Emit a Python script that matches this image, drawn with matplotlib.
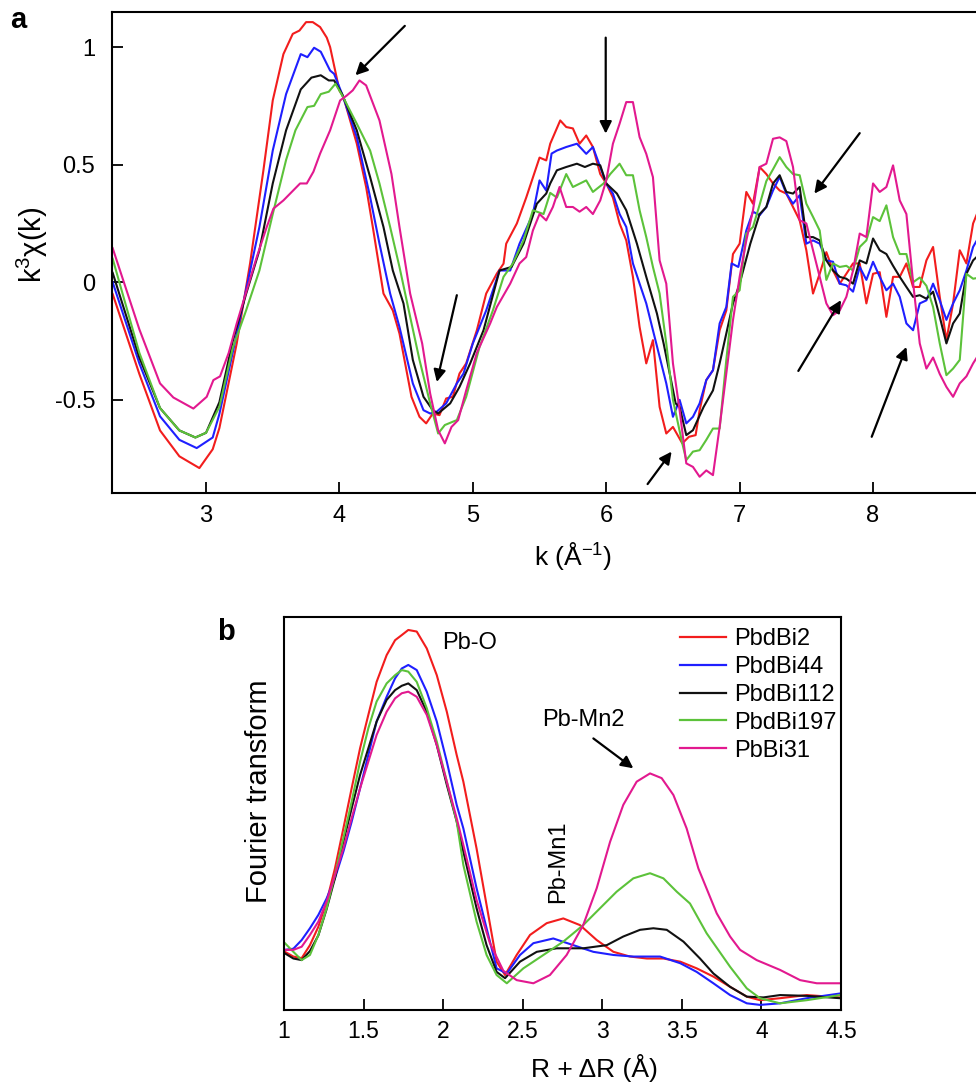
import matplotlib
matplotlib.use("Agg")
import matplotlib.pyplot as plt

plt.rcParams['font.family'] = ['Liberation Sans', 'DejaVu Sans']
plt.rcParams['mathtext.fontset'] = 'custom'
plt.rcParams['mathtext.rm'] = 'Liberation Sans'
plt.rcParams['mathtext.it'] = 'Liberation Sans'

# ---------------- panel a: k^3 chi(k) ----------------
k_red = [2.30, 2.50, 2.655, 2.80, 2.95, 3.05, 3.10, 3.23, 3.33, 3.43, 3.50, 3.58, 3.65, 3.70, 3.75, 3.80,
         3.855, 3.905, 3.93, 4.00, 4.03, 4.13, 4.20, 4.25, 4.33, 4.40, 4.45, 4.54, 4.60, 4.65, 4.70, 4.75,
         4.80, 4.85, 4.90, 4.95, 5.03, 5.10, 5.18, 5.23, 5.25, 5.33, 5.40, 5.50, 5.55, 5.58, 5.655, 5.70,
         5.75, 5.80, 5.85, 5.90, 5.955, 6.00, 6.05, 6.10, 6.15, 6.20, 6.25, 6.30, 6.35, 6.40, 6.45, 6.50,
         6.57, 6.62, 6.67, 6.70, 6.75, 6.80, 6.85, 6.90, 6.95, 7.00, 7.05, 7.10, 7.15, 7.20, 7.25, 7.30,
         7.35, 7.40, 7.45, 7.50, 7.55, 7.60, 7.65, 7.70, 7.75, 7.80, 7.85, 7.90, 7.95, 8.00, 8.05, 8.10,
         8.15, 8.20, 8.25, 8.30, 8.35, 8.40, 8.45, 8.50, 8.55, 8.60, 8.65, 8.70, 8.75, 8.80]
chi_red = [-0.05, -0.39, -0.63, -0.74, -0.79, -0.71, -0.62, -0.26, 0.08, 0.476, 0.773, 0.97, 1.056, 1.07, 1.106, 1.106,
           1.085, 1.04, 1.00, 0.815, 0.787, 0.589, 0.405, 0.235, -0.048, -0.12, -0.218, -0.487, -0.572, -0.60, -0.558, -0.565,
           -0.494, -0.487, -0.388, -0.345, -0.204, -0.048, 0.037, 0.079, 0.164, 0.25, 0.36, 0.53, 0.518, 0.589, 0.688, 0.66,
           0.654, 0.589, 0.624, 0.575, 0.46, 0.42, 0.36, 0.25, 0.178, 0.023, -0.19, -0.345, -0.246, -0.53, -0.643, -0.615,
           -0.685, -0.657, -0.65, -0.544, -0.416, -0.374, -0.204, -0.12, 0.12, 0.164, 0.384, 0.334, 0.49, 0.46, 0.42, 0.39,
           0.377, 0.32, 0.263, 0.136, -0.048, 0.036, 0.128, 0.05, -0.006, 0.036, 0.08, 0.08, -0.09, 0.036, 0.043, -0.147,
           0.023, 0.023, 0.08, -0.02, -0.02, 0.093, 0.15, -0.062, -0.246, -0.09, 0.136, 0.08, 0.25, 0.32]

k_blue = [2.30, 2.50, 2.655, 2.80, 2.93, 3.05, 3.10, 3.23, 3.40, 3.50, 3.60, 3.71, 3.76, 3.81, 3.86, 3.93,
          3.96, 4.02, 4.13, 4.23, 4.30, 4.38, 4.45, 4.55, 4.63, 4.68, 4.73, 4.80, 4.88, 4.93, 5.00, 5.10,
          5.20, 5.28, 5.35, 5.45, 5.50, 5.55, 5.59, 5.63, 5.70, 5.78, 5.85, 5.90, 5.955, 6.00, 6.05, 6.10,
          6.15, 6.20, 6.25, 6.30, 6.35, 6.40, 6.45, 6.50, 6.55, 6.60, 6.65, 6.70, 6.75, 6.80, 6.85, 6.90,
          6.94, 6.99, 7.05, 7.10, 7.15, 7.20, 7.25, 7.30, 7.35, 7.40, 7.45, 7.50, 7.55, 7.60, 7.65, 7.70,
          7.75, 7.80, 7.85, 7.90, 7.95, 8.00, 8.05, 8.10, 8.15, 8.20, 8.25, 8.30, 8.35, 8.40, 8.45, 8.50,
          8.55, 8.60, 8.65, 8.70, 8.75, 8.80]
chi_blue = [0.0, -0.345, -0.57, -0.67, -0.705, -0.66, -0.56, -0.22, 0.235, 0.56, 0.80, 0.97, 0.957, 0.997, 0.98, 0.90,
            0.886, 0.80, 0.617, 0.362, 0.164, -0.048, -0.19, -0.43, -0.544, -0.558, -0.55, -0.515, -0.43, -0.388, -0.26, -0.12,
            0.05, 0.05, 0.164, 0.29, 0.433, 0.39, 0.547, 0.56, 0.575, 0.589, 0.546, 0.575, 0.49, 0.42, 0.377, 0.29,
            0.235, 0.08, -0.006, -0.09, -0.204, -0.317, -0.43, -0.572, -0.50, -0.60, -0.572, -0.515, -0.416, -0.374, -0.175, -0.105,
            0.08, 0.065, 0.22, 0.30, 0.285, 0.32, 0.39, 0.448, 0.377, 0.334, 0.37, 0.164, 0.178, 0.164, 0.093, 0.087,
            -0.006, -0.013, -0.04, 0.065, 0.01, 0.087, 0.023, -0.034, -0.006, -0.062, -0.175, -0.204, -0.09, -0.077, -0.006, -0.077,
            -0.16, -0.09, -0.034, 0.05, 0.15, 0.20]

k_black = [2.30, 2.50, 2.655, 2.80, 2.92, 3.00, 3.10, 3.20, 3.30, 3.40, 3.50, 3.60, 3.71, 3.79, 3.86, 3.92,
           3.96, 4.02, 4.13, 4.23, 4.33, 4.40, 4.48, 4.55, 4.63, 4.70, 4.74, 4.83, 4.90, 4.98, 5.08, 5.20,
           5.29, 5.38, 5.48, 5.55, 5.58, 5.63, 5.70, 5.78, 5.84, 5.90, 5.955, 6.00, 6.08, 6.15, 6.23, 6.30,
           6.38, 6.43, 6.48, 6.52, 6.55, 6.60, 6.65, 6.73, 6.80, 6.85, 6.90, 6.95, 7.00, 7.08, 7.15, 7.20,
           7.25, 7.30, 7.35, 7.40, 7.45, 7.50, 7.55, 7.60, 7.65, 7.70, 7.75, 7.80, 7.85, 7.90, 7.95, 8.00,
           8.05, 8.10, 8.15, 8.20, 8.25, 8.30, 8.35, 8.40, 8.45, 8.50, 8.55, 8.60, 8.65, 8.70, 8.75, 8.80]
chi_black = [0.04, -0.32, -0.535, -0.63, -0.66, -0.64, -0.51, -0.25, -0.05, 0.136, 0.42, 0.646, 0.82, 0.87, 0.88, 0.858,
             0.858, 0.80, 0.646, 0.447, 0.235, 0.05, -0.09, -0.33, -0.487, -0.544, -0.558, -0.515, -0.445, -0.345, -0.204, 0.05,
             0.065, 0.164, 0.334, 0.377, 0.42, 0.476, 0.49, 0.504, 0.49, 0.504, 0.497, 0.42, 0.377, 0.306, 0.164, 0.023,
             -0.133, -0.26, -0.40, -0.515, -0.53, -0.65, -0.629, -0.53, -0.46, -0.345, -0.218, -0.09, -0.006, 0.164, 0.29, 0.32,
             0.42, 0.455, 0.384, 0.377, 0.405, 0.192, 0.192, 0.178, 0.093, 0.05, 0.023, 0.015, -0.006, 0.093, 0.08, 0.186,
             0.136, 0.12, 0.07, 0.023, -0.02, -0.062, -0.055, -0.07, -0.04, -0.147, -0.26, -0.175, -0.133, 0.036, 0.093, 0.12]

k_green = [2.30, 2.50, 2.655, 2.80, 2.92, 3.00, 3.10, 3.20, 3.30, 3.40, 3.50, 3.60, 3.67, 3.76, 3.81, 3.86,
           3.92, 3.97, 4.02, 4.13, 4.23, 4.30, 4.38, 4.45, 4.53, 4.60, 4.68, 4.74, 4.79, 4.88, 4.95, 5.05,
           5.15, 5.23, 5.30, 5.38, 5.45, 5.53, 5.58, 5.63, 5.70, 5.75, 5.85, 5.90, 5.98, 6.03, 6.10, 6.15,
           6.20, 6.25, 6.30, 6.35, 6.40, 6.45, 6.50, 6.57, 6.60, 6.65, 6.70, 6.75, 6.80, 6.85, 6.90, 6.95,
           7.00, 7.05, 7.10, 7.15, 7.20, 7.25, 7.30, 7.35, 7.40, 7.45, 7.50, 7.55, 7.60, 7.65, 7.70, 7.75,
           7.80, 7.85, 7.90, 7.95, 8.00, 8.05, 8.10, 8.15, 8.20, 8.25, 8.30, 8.35, 8.40, 8.45, 8.50, 8.55,
           8.60, 8.65, 8.70, 8.75, 8.80]
chi_green = [0.10, -0.30, -0.535, -0.63, -0.66, -0.64, -0.53, -0.28, -0.12, 0.05, 0.29, 0.52, 0.646, 0.745, 0.75, 0.80,
             0.81, 0.844, 0.795, 0.674, 0.56, 0.42, 0.235, 0.065, -0.147, -0.33, -0.515, -0.643, -0.607, -0.586, -0.487, -0.275,
             -0.12, 0.023, 0.08, 0.178, 0.306, 0.29, 0.38, 0.36, 0.46, 0.405, 0.433, 0.384, 0.42, 0.46, 0.504, 0.455,
             0.455, 0.306, 0.192, 0.065, -0.048, -0.26, -0.50, -0.685, -0.756, -0.72, -0.714, -0.67, -0.622, -0.622, -0.33, -0.062,
             -0.034, 0.207, 0.235, 0.33, 0.43, 0.48, 0.532, 0.49, 0.46, 0.455, 0.334, 0.278, 0.22, 0.01, 0.08, 0.065,
             0.07, 0.05, 0.15, 0.178, 0.277, 0.26, 0.327, 0.192, 0.12, 0.12, 0.0, 0.02, -0.015, -0.105, -0.26, -0.395,
             -0.367, -0.33, 0.036, 0.015, 0.02]

k_pink = [2.30, 2.50, 2.655, 2.755, 2.905, 3.005, 3.055, 3.105, 3.17, 3.23, 3.305, 3.38, 3.455, 3.505, 3.58, 3.705,
          3.755, 3.805, 3.855, 3.93, 4.005, 4.055, 4.10, 4.15, 4.20, 4.30, 4.39, 4.45, 4.53, 4.62, 4.68, 4.74,
          4.79, 4.84, 4.89, 4.95, 5.03, 5.13, 5.18, 5.28, 5.35, 5.40, 5.45, 5.50, 5.55, 5.60, 5.65, 5.70,
          5.75, 5.80, 5.85, 5.90, 5.955, 6.00, 6.05, 6.10, 6.15, 6.20, 6.25, 6.30, 6.35, 6.40, 6.45, 6.50,
          6.55, 6.60, 6.65, 6.70, 6.75, 6.80, 6.85, 6.90, 6.95, 7.00, 7.05, 7.10, 7.15, 7.20, 7.25, 7.30,
          7.35, 7.40, 7.45, 7.50, 7.55, 7.60, 7.65, 7.70, 7.75, 7.80, 7.85, 7.90, 7.95, 8.00, 8.05, 8.10,
          8.15, 8.20, 8.25, 8.30, 8.35, 8.40, 8.45, 8.50, 8.55, 8.60, 8.65, 8.70, 8.75, 8.80]
chi_pink = [0.145, -0.20, -0.43, -0.49, -0.537, -0.487, -0.416, -0.40, -0.30, -0.175, -0.034, 0.107, 0.235, 0.313, 0.348, 0.42,
            0.42, 0.47, 0.547, 0.646, 0.773, 0.794, 0.816, 0.858, 0.837, 0.688, 0.46, 0.235, -0.048, -0.26, -0.473, -0.629,
            -0.685, -0.615, -0.586, -0.46, -0.30, -0.175, -0.105, -0.006, 0.08, 0.107, 0.22, 0.29, 0.263, 0.32, 0.405, 0.32,
            0.32, 0.30, 0.32, 0.29, 0.348, 0.433, 0.589, 0.674, 0.766, 0.766, 0.617, 0.546, 0.447, 0.093, -0.006, -0.345,
            -0.544, -0.77, -0.785, -0.827, -0.80, -0.82, -0.615, -0.388, -0.161, 0.023, 0.178, 0.306, 0.49, 0.504, 0.61, 0.616,
            0.60, 0.49, 0.263, 0.25, 0.136, 0.023, -0.09, -0.14, -0.12, -0.062, 0.05, 0.207, 0.192, 0.42, 0.384, 0.405,
            0.497, 0.348, 0.29, 0.0, -0.26, -0.367, -0.32, -0.39, -0.445, -0.487, -0.43, -0.40, -0.345, -0.30]

k_ticks = [3, 4, 5, 6, 7, 8]
chi_ticks = [-0.5, 0, 0.5, 1]
chi_tick_labels = ['-0.5', '0', '0.5', '1']

# ---------------- panel b: Fourier transform ----------------
R_red = [1.006, 1.059, 1.111, 1.163, 1.216, 1.268, 1.32, 1.373, 1.425, 1.478, 1.53, 1.582, 1.645, 1.698, 1.74, 1.781,
         1.834, 1.897, 1.96, 2.023, 2.085, 2.127, 2.21, 2.273, 2.336, 2.389, 2.462, 2.546, 2.651, 2.755, 2.86, 2.965,
         3.07, 3.174, 3.28, 3.384, 3.49, 3.593, 3.698, 3.803, 3.908, 3.991, 4.117, 4.285, 4.494]
ft_red = [0.148, 0.136, 0.132, 0.165, 0.212, 0.276, 0.36, 0.462, 0.564, 0.666, 0.751, 0.835, 0.903, 0.941, 0.954, 0.967,
          0.963, 0.92, 0.852, 0.759, 0.649, 0.581, 0.411, 0.267, 0.123, 0.089, 0.14, 0.191, 0.221, 0.233, 0.216, 0.178,
          0.148, 0.136, 0.131, 0.131, 0.123, 0.106, 0.085, 0.059, 0.034, 0.025, 0.03, 0.038, 0.032]

R_blue = [1.006, 1.059, 1.111, 1.163, 1.216, 1.268, 1.32, 1.373, 1.425, 1.478, 1.53, 1.582, 1.645, 1.698, 1.74, 1.781,
          1.834, 1.897, 1.96, 2.023, 2.085, 2.127, 2.21, 2.273, 2.336, 2.40, 2.483, 2.567, 2.692, 2.818, 2.944, 3.07,
          3.195, 3.363, 3.49, 3.593, 3.698, 3.803, 3.908, 3.991, 4.117, 4.285, 4.494]
ft_blue = [0.153, 0.156, 0.178, 0.208, 0.242, 0.284, 0.335, 0.403, 0.479, 0.564, 0.649, 0.734, 0.797, 0.844, 0.869, 0.878,
           0.865, 0.81, 0.734, 0.632, 0.522, 0.462, 0.31, 0.208, 0.106, 0.093, 0.14, 0.17, 0.182, 0.165, 0.148, 0.14,
           0.136, 0.136, 0.119, 0.097, 0.068, 0.038, 0.017, 0.013, 0.017, 0.03, 0.042]

R_black = [1.006, 1.059, 1.111, 1.163, 1.216, 1.268, 1.32, 1.373, 1.425, 1.478, 1.53, 1.582, 1.645, 1.698, 1.74, 1.781,
           1.834, 1.897, 1.96, 2.023, 2.085, 2.127, 2.21, 2.273, 2.336, 2.389, 2.483, 2.588, 2.713, 2.88, 3.028, 3.132,
           3.237, 3.321, 3.405, 3.51, 3.614, 3.698, 3.803, 3.908, 4.012, 4.117, 4.285, 4.494]
ft_black = [0.144, 0.131, 0.127, 0.15, 0.19, 0.257, 0.335, 0.428, 0.513, 0.598, 0.666, 0.734, 0.789, 0.814, 0.825, 0.831,
            0.814, 0.759, 0.674, 0.573, 0.48, 0.403, 0.259, 0.165, 0.097, 0.081, 0.123, 0.148, 0.157, 0.157, 0.165, 0.187,
            0.204, 0.208, 0.204, 0.174, 0.131, 0.093, 0.059, 0.034, 0.032, 0.038, 0.036, 0.03]

R_green = [1.006, 1.059, 1.111, 1.163, 1.216, 1.268, 1.32, 1.373, 1.425, 1.478, 1.53, 1.582, 1.645, 1.698, 1.74, 1.781,
           1.834, 1.897, 1.96, 2.023, 2.085, 2.127, 2.21, 2.273, 2.336, 2.40, 2.504, 2.63, 2.755, 2.88, 2.986, 3.09,
           3.195, 3.30, 3.384, 3.468, 3.551, 3.656, 3.803, 3.908, 3.991, 4.117, 4.285, 4.494]
ft_green = [0.17, 0.148, 0.127, 0.14, 0.191, 0.259, 0.343, 0.437, 0.53, 0.632, 0.717, 0.785, 0.831, 0.852, 0.865, 0.861,
            0.835, 0.768, 0.683, 0.581, 0.48, 0.369, 0.225, 0.14, 0.089, 0.068, 0.106, 0.14, 0.174, 0.216, 0.259, 0.301,
            0.335, 0.348, 0.335, 0.301, 0.271, 0.195, 0.11, 0.055, 0.03, 0.017, 0.025, 0.038]

R_pink = [1.006, 1.059, 1.111, 1.163, 1.216, 1.268, 1.32, 1.373, 1.425, 1.478, 1.53, 1.582, 1.645, 1.698, 1.74, 1.781,
          1.834, 1.897, 1.96, 2.023, 2.085, 2.127, 2.21, 2.294, 2.378, 2.462, 2.567, 2.671, 2.776, 2.88, 2.965, 3.049,
          3.132, 3.216, 3.30, 3.373, 3.447, 3.53, 3.604, 3.719, 3.803, 3.866, 3.97, 4.117, 4.243, 4.348, 4.494]
ft_pink = [0.153, 0.153, 0.161, 0.191, 0.225, 0.276, 0.343, 0.411, 0.488, 0.564, 0.632, 0.70, 0.759, 0.793, 0.806, 0.81,
           0.797, 0.751, 0.674, 0.581, 0.488, 0.42, 0.28, 0.17, 0.1, 0.076, 0.068, 0.089, 0.14, 0.216, 0.31, 0.428,
           0.522, 0.581, 0.602, 0.59, 0.547, 0.462, 0.36, 0.246, 0.187, 0.153, 0.127, 0.102, 0.076, 0.068, 0.068]

R_ticks = [1, 1.5, 2, 2.5, 3, 3.5, 4, 4.5]
R_tick_labels = ['1', '1.5', '2', '2.5', '3', '3.5', '4', '4.5']

names = ['PbdBi2', 'PbdBi44', 'PbdBi112', 'PbdBi197', 'PbBi31']
colors = ['#f21d1d', '#1f1fff', '#111111', '#5cc23a', '#e2198f']

W, H = 976, 1085
fig = plt.figure(figsize=(W / 100, H / 100), dpi=100)

def frac(x0, y0, x1, y1):
    return [x0 / W, 1 - y1 / H, (x1 - x0) / W, (y1 - y0) / H]

# ---- panel a ----
kmin, kmax = 2.295, 9.5
axa = fig.add_axes(frac(112, 12, 112 + (kmax - kmin) * 133.4, 493))
series_a = [(k_red, chi_red), (k_blue, chi_blue), (k_black, chi_black), (k_green, chi_green), (k_pink, chi_pink)]
for (kk, cc), col in zip(series_a, colors):
    axa.plot(kk, cc, color=col, lw=1.5)
axa.set_xlim(kmin, kmax)
axa.set_ylim(-0.896, 1.149)
axa.set_xticks(k_ticks)
axa.set_xticklabels([str(t) for t in k_ticks])
axa.set_yticks(chi_ticks)
axa.set_yticklabels(chi_tick_labels)
axa.tick_params(direction='in', length=8, width=1.3, labelsize=17)
axa.tick_params(axis='x', pad=9)
axa.tick_params(axis='y', pad=12)
for s in axa.spines.values():
    s.set_linewidth(1.5)

arrow_kw = dict(arrowstyle='-|>', color='black', lw=1.6, mutation_scale=18, shrinkA=0, shrinkB=0)
arrows_a = [((4.49, 1.09), (4.12, 0.88)),
            ((4.88, -0.055), (4.73, -0.424)),
            ((5.996, 1.04), (5.996, 0.632)),
            ((7.90, 0.634), (7.56, 0.377)),
            ((6.31, -0.858), (6.49, -0.72)),
            ((7.44, -0.377), (7.76, -0.076)),
            ((7.99, -0.657), (8.25, -0.275))]
for tail, head in arrows_a:
    axa.annotate('', xy=head, xytext=tail, arrowprops=arrow_kw)

fig.text(32 / W, 1 - 245 / H, r'k$^{3}$$\chi$(k)', rotation=90, ha='center', va='center', fontsize=21)
fig.text(573 / W, 1 - 556 / H, r'k (Å$^{-1}$)', ha='center', va='center', fontsize=19)
fig.text(18 / W, 1 - 20 / H, 'a', ha='center', va='center', fontsize=21, fontweight='bold')

# ---- panel b ----
axb = fig.add_axes(frac(284, 617, 841, 1010))
series_b = [(R_red, ft_red), (R_blue, ft_blue), (R_black, ft_black), (R_green, ft_green), (R_pink, ft_pink)]
for (rr, ff), col, nm in zip(series_b, colors, names):
    axb.plot(rr, ff, color=col, lw=1.5, label=nm)
axb.set_xlim(1, 4.5)
axb.set_ylim(0, 1)
axb.set_xticks(R_ticks)
axb.set_xticklabels(R_tick_labels)
axb.set_yticks([])
axb.tick_params(axis='x', direction='in', length=8, width=1.3, labelsize=16.5, pad=7)
for s in axb.spines.values():
    s.set_linewidth(1.5)

axb.text(1.993, 0.934, 'Pb-O', ha='left', va='center', fontsize=17)
axb.text(2.722, 0.377, 'Pb-Mn1', ha='center', va='center', fontsize=17, rotation=90)
axb.text(2.879, 0.738, 'Pb-Mn2', ha='center', va='center', fontsize=17)
axb.annotate('', xy=(3.195, 0.615), xytext=(2.944, 0.691), arrowprops=arrow_kw)

leg = axb.legend(loc='upper left', bbox_to_anchor=(0.711, 0.972), frameon=False, fontsize=17,
                 handlelength=1.95, handletextpad=0.35, labelspacing=0.25, borderpad=0, borderaxespad=0)
for line in leg.get_lines():
    line.set_linewidth(1.6)

fig.text(259 / W, 1 - 791 / H, 'Fourier transform', rotation=90, ha='center', va='center', fontsize=21)
fig.text(594 / W, 1 - 1068 / H, 'R + ΔR (Å)', ha='center', va='center', fontsize=19)
fig.text(226 / W, 1 - 632 / H, 'b', ha='center', va='center', fontsize=21, fontweight='bold')

fig.savefig('out.png', dpi=100)
